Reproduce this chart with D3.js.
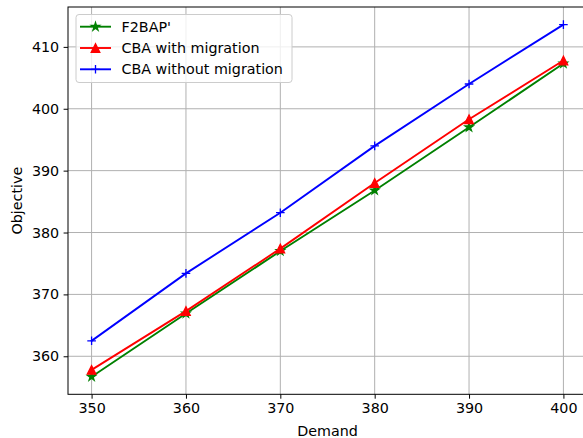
<!DOCTYPE html>
<html>
<head>
<meta charset="utf-8">
<script src="https://cdn.jsdelivr.net/npm/d3@7"></script>
<style>
  html, body { margin: 0; padding: 0; background: #fff; }
  svg { display: block; font-family: "DejaVu Sans", sans-serif; }
</style>
</head>
<body>
<svg id="chart" width="583" height="438"></svg>
<script>
// Demand levels on the x axis
const demand = [350, 360, 370, 380, 390, 400];
// Objective values per method
const f2bap = [356.7, 366.9, 377.0, 386.8, 397.0, 407.3];
const cbaMigration = [357.8, 367.3, 377.4, 388.0, 398.3, 407.8];
const cbaNoMigration = [362.5, 373.4, 383.2, 394.0, 404.0, 413.6];
// Tick labels
const xTicks = [350, 360, 370, 380, 390, 400];
const yTicks = [360, 370, 380, 390, 400, 410];
const seriesNames = ["F2BAP'", "CBA with migration", "CBA without migration"];

const series = [
  { name: seriesNames[0], values: f2bap, color: "green", marker: "star" },
  { name: seriesNames[1], values: cbaMigration, color: "red", marker: "triangle" },
  { name: seriesNames[2], values: cbaNoMigration, color: "blue", marker: "plus" }
];

const fontSize = "14.3px";
const svg = d3.select("#chart");
const plot = { left: 68, right: 587, top: 7, bottom: 394.3 };

// Matplotlib-style 5% padding around the data range
const xPad = (d3.max(demand) - d3.min(demand)) * 0.05;
const allY = series.flatMap(s => s.values);
const yPad = (d3.max(allY) - d3.min(allY)) * 0.05;

const x = d3.scaleLinear()
  .domain([d3.min(demand) - xPad, d3.max(demand) + xPad])
  .range([plot.left, plot.right]);
const y = d3.scaleLinear()
  .domain([d3.min(allY) - yPad, d3.max(allY) + yPad])
  .range([plot.bottom, plot.top]);

// Grid
const grid = svg.append("g");
grid.selectAll("line.vx").data(xTicks).join("line")
  .attr("x1", d => x(d)).attr("x2", d => x(d))
  .attr("y1", plot.top).attr("y2", plot.bottom)
  .attr("stroke", "#b0b0b0").attr("stroke-width", 1);
grid.selectAll("line.hy").data(yTicks).join("line")
  .attr("x1", plot.left).attr("x2", plot.right)
  .attr("y1", d => y(d)).attr("y2", d => y(d))
  .attr("stroke", "#b0b0b0").attr("stroke-width", 1);

// Axes
const xAxis = svg.append("g")
  .attr("transform", `translate(0,${plot.bottom})`)
  .call(d3.axisBottom(x).tickValues(xTicks).tickSize(4.4).tickPadding(4.4).tickFormat(d3.format("d")));
const yAxis = svg.append("g")
  .attr("transform", `translate(${plot.left},0)`)
  .call(d3.axisLeft(y).tickValues(yTicks).tickSize(4.4).tickPadding(4.4).tickFormat(d3.format("d")));
[xAxis, yAxis].forEach(a => {
  a.select(".domain").remove();
  a.selectAll(".tick line").attr("stroke", "#000").attr("stroke-width", 1);
  a.selectAll(".tick text").attr("fill", "#000")
    .style("font-family", "DejaVu Sans").style("font-size", fontSize);
});

// Frame
svg.append("rect")
  .attr("x", plot.left).attr("y", plot.top)
  .attr("width", plot.right - plot.left).attr("height", plot.bottom - plot.top)
  .attr("fill", "none").attr("stroke", "#000").attr("stroke-width", 1);

// Axis titles
svg.append("text")
  .attr("x", (plot.left + plot.right) / 2).attr("y", 435.5)
  .attr("text-anchor", "middle").style("font-size", fontSize).text("Demand");
svg.append("text")
  .attr("transform", `translate(21.5,${(plot.top + plot.bottom) / 2}) rotate(-90)`)
  .attr("text-anchor", "middle").style("font-size", fontSize).text("Objective");

// Marker shapes
const ms = 8.6;
function markerPath(kind) {
  if (kind === "triangle") {
    const h = ms / 2;
    return `M0,${-h}L${-h},${h}L${h},${h}Z`;
  }
  if (kind === "plus") {
    const h = ms / 2;
    return `M${-h},0H${h}M0,${-h}V${h}`;
  }
  // five-pointed star
  const R = ms / 2, r = R * 0.381966;
  let p = "";
  for (let i = 0; i < 10; i++) {
    const rad = i % 2 === 0 ? R : r;
    const a = -Math.PI / 2 + i * Math.PI / 5;
    p += (i === 0 ? "M" : "L") + (rad * Math.cos(a)).toFixed(3) + "," + (rad * Math.sin(a)).toFixed(3);
  }
  return p + "Z";
}

// Lines and markers
const line = d3.line().x((d, i) => x(demand[i])).y(d => y(d));
series.forEach(s => {
  const g = svg.append("g");
  g.append("path").attr("d", line(s.values))
    .attr("fill", "none").attr("stroke", s.color).attr("stroke-width", 1.9)
    .attr("stroke-linejoin", "round").attr("stroke-linecap", "square");
  g.selectAll("path.m").data(s.values).join("path")
    .attr("class", "m")
    .attr("transform", (d, i) => `translate(${x(demand[i])},${y(d)})`)
    .attr("d", markerPath(s.marker))
    .attr("fill", s.marker === "plus" ? "none" : s.color)
    .attr("stroke", s.color).attr("stroke-width", 1.3);
});

// Legend
const legend = svg.append("g");
legend.append("rect")
  .attr("x", 76).attr("y", 14.5).attr("width", 216).attr("height", 68)
  .attr("rx", 3).attr("fill", "#fff").attr("fill-opacity", 0.8)
  .attr("stroke", "#cccccc").attr("stroke-width", 1);
series.forEach((s, i) => {
  const cy = 26.7 + i * 21.3;
  legend.append("line").attr("x1", 80).attr("x2", 111).attr("y1", cy).attr("y2", cy)
    .attr("stroke", s.color).attr("stroke-width", 1.9);
  legend.append("path").attr("transform", `translate(95.5,${cy})`)
    .attr("d", markerPath(s.marker))
    .attr("fill", s.marker === "plus" ? "none" : s.color)
    .attr("stroke", s.color).attr("stroke-width", 1.3);
  legend.append("text").attr("x", 121.5).attr("y", cy).attr("dy", "0.36em")
    .style("font-size", fontSize).text(s.name);
});
</script>
</body>
</html>
